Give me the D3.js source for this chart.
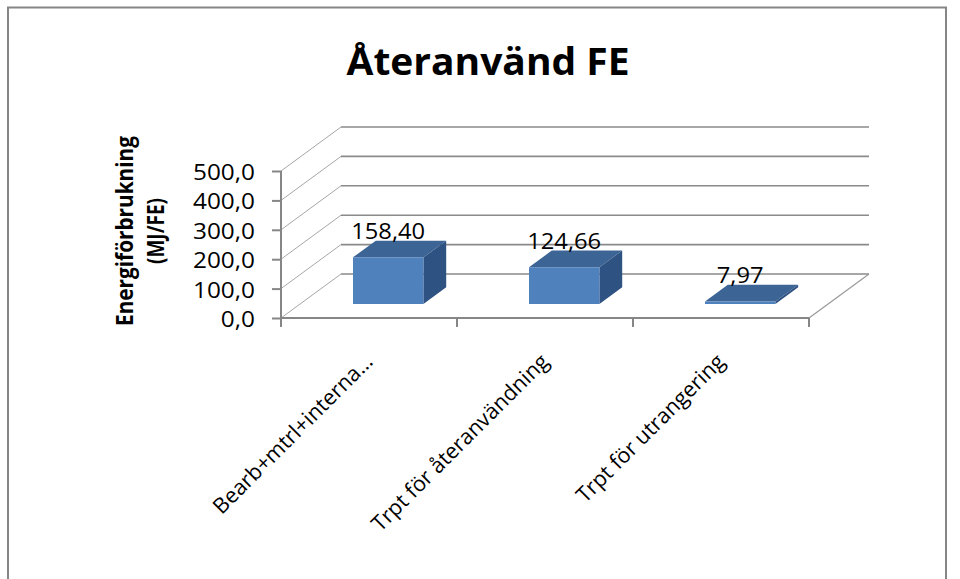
<!DOCTYPE html>
<html>
<head>
<meta charset="utf-8">
<script src="https://cdn.jsdelivr.net/npm/d3@7"></script>
<style>
  body { margin: 0; background: #fff; }
  svg { display: block; }
  text { font-family: "Open Sans", "Noto Sans", sans-serif; fill: #000; }
</style>
</head>
<body>
<svg id="chart" width="960" height="579"></svg>
<script>
// ---- data ----
const categories = ["Bearb+mtrl+interna…", "Trpt för återanvändning", "Trpt för utrangering"];
const values = [158.40, 124.66, 7.97];
const valueLabels = ["158,40", "124,66", "7,97"];
const yTicks = [0, 100, 200, 300, 400, 500];
const yTickLabels = ["0,0", "100,0", "200,0", "300,0", "400,0", "500,0"];
const chartTitle = "Återanvänd FE";
const yTitleLines = ["Energiförbrukning", "(MJ/FE)"];

// ---- layout ----
const svg = d3.select("#chart");
const front = { left: 281, right: 809, bottom: 318, top: 171 };   // front plane of the 3D box
const depth = { dx: 60, dy: -44 };                                  // oblique offset of the back wall
const barDepth = [0.32, 0.70];                                      // bar extent in depth (0 = front, 1 = back)
const gridColor = "#8a8a8a", axisColor = "#868686";
const colFront = "#4f81bd", colTop = "#3c6595", colSide = "#2e5282";

const x = d3.scaleBand().domain(categories).range([front.left, front.right]).paddingInner(0.6).paddingOuter(0.3);
const xSlot = d3.scaleBand().domain(categories).range([front.left, front.right]);
const y = d3.scaleLinear().domain([0, 500]).range([front.bottom, front.top]);

// oblique projection of a point (front x, value, depth) to screen
const P = (xf, v, z) => [xf + z * depth.dx, y(v) + z * depth.dy];
const poly = pts => pts.map(p => p.join(",")).join(" ");

// chart border
svg.append("rect")
  .attr("x", 8).attr("y", 7.5).attr("width", 938).attr("height", 620)
  .attr("fill", "none").attr("stroke", axisColor).attr("stroke-width", 2);

// back wall gridlines
svg.append("g").selectAll("line").data(yTicks).join("line")
  .attr("x1", d => P(front.left, d, 1)[0]).attr("y1", d => P(front.left, d, 1)[1])
  .attr("x2", d => P(front.right, d, 1)[0]).attr("y2", d => P(front.right, d, 1)[1])
  .attr("stroke", gridColor).attr("stroke-width", 1.6);

// side wall gridlines
svg.append("g").selectAll("line").data(yTicks).join("line")
  .attr("x1", d => P(front.left, d, 0)[0]).attr("y1", d => P(front.left, d, 0)[1])
  .attr("x2", d => P(front.left, d, 1)[0]).attr("y2", d => P(front.left, d, 1)[1])
  .attr("stroke", "#a6a6a6").attr("stroke-width", 1);

// right edge of the floor
svg.append("line")
  .attr("x1", P(front.right, 0, 0)[0]).attr("y1", P(front.right, 0, 0)[1])
  .attr("x2", P(front.right, 0, 1)[0]).attr("y2", P(front.right, 0, 1)[1])
  .attr("stroke", "#999").attr("stroke-width", 1.2);

// value axis
const yAxis = svg.append("g").attr("transform", `translate(${front.left},0)`)
  .call(d3.axisLeft(y).tickValues(yTicks).tickSize(9).tickFormat(() => ""));
yAxis.select(".domain").attr("stroke", axisColor).attr("stroke-width", 2)
  .attr("d", `M0,${y(500)}V${y(0) + 9}`);
yAxis.selectAll(".tick line").attr("stroke", axisColor).attr("stroke-width", 2);

// category axis (front floor edge)
const catTicks = categories.map(c => xSlot(c)).concat([front.right]);
svg.append("line")
  .attr("x1", front.left).attr("x2", front.right).attr("y1", y(0)).attr("y2", y(0))
  .attr("stroke", axisColor).attr("stroke-width", 2);
svg.append("g").selectAll("line").data(catTicks).join("line")
  .attr("x1", d => d).attr("x2", d => d).attr("y1", y(0)).attr("y2", y(0) + 9)
  .attr("stroke", axisColor).attr("stroke-width", 2);

// y tick labels
svg.append("g").selectAll("g").data(yTicks).join("g")
  .attr("transform", d => `translate(255,${y(d) + 9})`)
  .append("text")
  .attr("transform", "scale(1.16,1)")
  .attr("text-anchor", "end").attr("font-size", 21)
  .text((d, i) => yTickLabels[i]);

// bars as 3D boxes
const bars = svg.append("g").selectAll("g").data(categories).join("g");
const [z0, z1] = barDepth;
bars.each(function (c, i) {
  const g = d3.select(this);
  const xl = x(c), xr = x(c) + x.bandwidth(), v = values[i];
  // top face
  g.append("polygon").attr("fill", colTop)
    .attr("points", poly([P(xl, v, z0), P(xr, v, z0), P(xr, v, z1), P(xl, v, z1)]));
  // right side face
  g.append("polygon").attr("fill", colSide)
    .attr("points", poly([P(xr, 0, z0), P(xr, v, z0), P(xr, v, z1), P(xr, 0, z1)]));
  // front face
  g.append("polygon").attr("fill", colFront)
    .attr("points", poly([P(xl, 0, z0), P(xr, 0, z0), P(xr, v, z0), P(xl, v, z0)]));
});

// value labels above the bars
svg.append("g").selectAll("text").data(categories).join("text")
  .attr("transform", (c, i) => {
    const cx = P(x(c) + x.bandwidth() / 2, values[i], z0)[0];
    const ty = P(x(c), values[i], z1)[1] - 1.5;
    return `translate(${cx},${ty}) scale(1.13,1)`;
  })
  .attr("text-anchor", "middle").attr("font-size", 21)
  .text((c, i) => valueLabels[i]);

// rotated category labels
svg.append("g").selectAll("text").data(categories).join("text")
  .attr("transform", c => `translate(${xSlot(c) + xSlot.bandwidth() / 2 + 5},363) rotate(-45)`)
  .attr("text-anchor", "end").attr("font-size", 21.5)
  .text(c => c);

// axis title
svg.append("g").selectAll("text").data(yTitleLines).join("text")
  .attr("transform", (d, i) => `translate(${[133, 164][i]},231) scale(1.2,1) rotate(-90)`)
  .attr("text-anchor", "middle").attr("font-size", 19).attr("font-weight", "bold")
  .text(d => d)
  .each(function (d, i) {
    if (i === 0) d3.select(this).attr("textLength", 190).attr("lengthAdjust", "spacingAndGlyphs");
  });

// chart title
svg.append("text")
  .attr("x", 488).attr("y", 75)
  .attr("text-anchor", "middle").attr("font-size", 37).attr("font-weight", "bold")
  .attr("textLength", 283).attr("lengthAdjust", "spacingAndGlyphs")
  .text(chartTitle);
</script>
</body>
</html>
